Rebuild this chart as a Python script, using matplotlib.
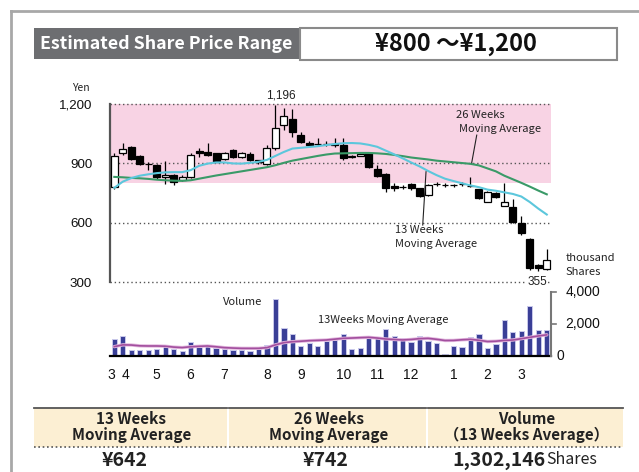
import matplotlib
matplotlib.use("Agg")
import matplotlib.pyplot as plt
from matplotlib.patches import Rectangle
from matplotlib.lines import Line2D
import numpy as np

# ---------------- data ----------------
opens  = [780, 951, 982, 938, 899, 893, 830, 840, 817, 830, 963, 956, 951, 921, 968, 931, 946, 915, 899, 976,
          1094, 1123, 1043, 1001, 996, 1000, 999, 993, 930, 940, 951, 870, 845, 786, 779, 795, 774, 740, 794, 789,
          790, 795, 787, 769, 707, 752, 687, 678, 601, 517, 387, 365]
closes = [935, 972, 923, 897, 896, 830, 840, 808, 830, 942, 952, 942, 909, 954, 934, 951, 917, 906, 976, 1080,
          1141, 1057, 1010, 994, 1000, 997, 995, 926, 938, 946, 880, 836, 778, 776, 781, 774, 736, 791, 797, 791,
          792, 797, 785, 724, 757, 732, 707, 606, 547, 372, 370, 412]
highs  = [952, 1004, 990, 942, 905, 898, 914, 845, 842, 955, 980, 1005, 955, 960, 972, 960, 960, 918, 993, 1196,
          1180, 1173, 1060, 1015, 1028, 1012, 1030, 1027, 945, 958, 960, 892, 850, 800, 790, 800, 778, 796, 805, 800,
          798, 805, 833, 772, 762, 755, 800, 719, 634, 525, 390, 466]
lows   = [772, 945, 915, 893, 868, 822, 795, 790, 810, 825, 930, 935, 905, 915, 925, 925, 912, 898, 892, 968,
          1070, 1035, 1005, 988, 990, 990, 985, 918, 925, 935, 876, 830, 754, 760, 770, 768, 730, 735, 785, 780,
          782, 788, 780, 720, 703, 728, 683, 600, 540, 360, 355, 360]
ma13   = [777, 808, 826, 838, 845, 851, 855, 856, 856, 866, 888, 899, 905, 905, 900, 899, 903, 908, 918, 938,
          958, 975, 979, 983, 987, 993, 998, 1002, 1003, 1001, 994, 984, 965, 946, 926, 905, 885, 862, 841, 823,
          811, 800, 789, 780, 768, 762, 754, 746, 733, 705, 672, 642]
ma26   = [832, 830, 827, 825, 822, 818, 815, 813, 812, 815, 823, 831, 839, 846, 853, 860, 867, 874, 881, 891,
          903, 914, 922, 930, 938, 945, 950, 951, 952, 953, 953, 951, 948, 943, 937, 930, 925, 920, 914, 910,
          906, 902, 898, 890, 875, 860, 838, 820, 802, 783, 763, 744]
volume = [1069, 1237, 357, 357, 357, 461, 671, 419, 314, 860, 545, 671, 524, 461, 357, 357, 314, 460, 680, 3565,
          1740, 1370, 629, 810, 629, 943, 980, 1363, 461, 524, 1258, 1216, 1677, 1258, 1132, 860, 1237, 943, 797, 147,
          629, 566, 1174, 1363, 524, 734, 2244, 1510, 1573, 3145, 1635, 1635]
vol_ma = [590, 700, 690, 640, 630, 630, 615, 560, 530, 580, 610, 630, 580, 525, 500, 482, 480, 482, 524, 700,
          840, 900, 930, 964, 985, 1006, 1060, 1111, 1130, 1153, 1174, 1130, 1070, 1040, 1010, 1040, 1090, 1111, 1050, 975,
          980, 1020, 1048, 990, 910, 930, 980, 1006, 1090, 1174, 1260, 1330]
month_labels = ["3", "4", "5", "6", "7", "8", "9", "10", "11", "12", "1", "2", "3"]
month_pos = [-0.4, 1.3, 5, 9, 13, 18, 22, 27, 31, 35, 40, 44, 48]
price_ticks = [300, 600, 900, 1200]
price_tick_labels = ["300", "600", "900", "1,200"]
vol_ticks = [0, 2000, 4000]
vol_tick_labels = ["0", "2,000", "4,000"]
range_low, range_high = 800, 1200
summary_heads = ["13 Weeks\nMoving Average", "26 Weeks\nMoving Average", "Volume\n（13 Weeks Average）"]
summary_vals = ["¥642", "¥742", "1,302,146"]

# ---------------- styling ----------------
W, H = 639, 472
FJ = ["Noto Sans CJK JP", "DejaVu Sans"]
FN = ["Liberation Sans", "DejaVu Sans"]
plt.rcParams['font.family'] = FJ

fig = plt.figure(figsize=(W / 100, H / 100), dpi=100)
fig.patch.set_facecolor("white")

def fx(x):
    return x / W

def fy(y):
    return 1 - y / H

def ax_rect(x0, y0, x1, y1):
    return [fx(x0), fy(y1), (x1 - x0) / W, (y1 - y0) / H]

# outer frame
fig.add_artist(Line2D([fx(11), fx(11)], [fy(11), 0], transform=fig.transFigure, color="#a8a8a8", lw=2))
fig.add_artist(Line2D([fx(11), 1], [fy(11), fy(11)], transform=fig.transFigure, color="#a8a8a8", lw=2))

# header
fig.add_artist(Rectangle((fx(34), fy(59)), (300 - 34) / W, 31 / H, transform=fig.transFigure,
                         facecolor="#6d6e71", edgecolor="none"))
fig.add_artist(Rectangle((fx(300), fy(59.5)), (617 - 300) / W, 31 / H, transform=fig.transFigure,
                         facecolor="white", edgecolor="#8a8a8a", lw=1.5))
fig.text(fx(166), fy(44), "Estimated Share Price Range", color="white", fontsize=12.8, fontweight="bold",
         ha="center", va="center", family=FJ)
fig.text(fx(456), fy(44), "¥800 ～¥1,200", color="#111111", fontsize=17, fontweight="bold",
         ha="center", va="center", family=FJ)

# ---------------- price axes ----------------
ppx = 178.3 / 900.0
ax = fig.add_axes(ax_rect(105, 85, 560, 290))
x0 = (105 - 114.3) / 8.48
x1 = (560 - 114.3) / 8.48
ax.set_xlim(x0, x1)
ax.set_ylim(300 - (290 - 282.3) / ppx, 1200 + (104 - 85) / ppx)
for s in ax.spines.values():
    s.set_visible(False)
ax.patch.set_alpha(0)
ax.set_xticks([])
ax.set_yticks(price_ticks)
ax.set_yticklabels(price_tick_labels, family=FN, fontsize=9.6, color="#111111")
ax.tick_params(axis="y", length=0, pad=9.2)

xs = np.arange(len(opens))
ax.add_patch(Rectangle((-0.5, range_low), 52, range_high - range_low, facecolor="#f8d3e4",
                       edgecolor="none", zorder=0))
for t in price_ticks:
    ax.plot([-0.5, 51.5], [t, t], color="#555555", lw=1, ls=(0, (1, 2)), zorder=1)
ax.plot([-0.5, -0.5], [300, 1200], color="#555555", lw=1.6, zorder=2)

o = np.array(opens); c = np.array(closes)
up = c >= o
bottoms = np.minimum(o, c)
heights = np.maximum(np.abs(c - o), 3)
ax.vlines(xs, lows, highs, color="black", lw=0.9, zorder=3)
ax.bar(xs, heights, bottom=bottoms, width=0.82, color=np.where(up, "white", "black"),
       edgecolor="black", linewidth=0.9, zorder=4)
ax.plot(xs, ma26, color="#3a9a68", lw=1.5, zorder=5)
ax.plot(xs, ma13, color="#5cc7dc", lw=1.5, zorder=6)

txt = dict(fontsize=8, color="#222222", family=FJ, clip_on=False)
ax.text(19.7, 1245, "1,196", ha="center", va="center", **{**txt, 'family': FN, 'fontsize': 8.5})
ax.text(40.3, 1144, "26 Weeks", ha="left", va="center", **txt)
ax.text(40.65, 1074, "Moving Average", ha="left", va="center", **txt)
ax.plot([42.74, 42.15], [1043, 904], color="#222222", lw=0.8, zorder=7)
ax.text(33.1, 564, "13 Weeks", ha="left", va="center", **txt)
ax.text(33.1, 493, "Moving Average", ha="left", va="center", **txt)
ax.plot([36.76, 36.37], [858, 589], color="#222222", lw=0.8, zorder=7)
ax.text(49.9, 300, "355", ha="center", va="center", zorder=8,
        bbox=dict(facecolor="white", edgecolor="none", pad=0.3), **{**txt, 'family': FN, 'fontsize': 8.5})
ax.text(-4.0, 1281, "Yen", ha="center", va="center", **{**txt, 'fontsize': 7.5})
ax.text(53.2, 422, "thousand", ha="left", va="center", **txt)
ax.text(53.2, 352, "Shares", ha="left", va="center", **txt)

# ---------------- volume axes ----------------
vpx = 2000 / 31.8
axv = fig.add_axes(ax_rect(105, 288, 560, 358))
axv.set_xlim(x0, x1)
axv.set_ylim(-(358 - 356) * vpx, (356 - 288) * vpx)
for s in axv.spines.values():
    s.set_visible(False)
axv.patch.set_alpha(0)
axv.set_yticks([])
axv.bar(xs, volume, width=0.62, color="#3a3f97", edgecolor="#c9c9ea", linewidth=0.7, zorder=3)
axv.plot(xs, vol_ma, color="#e3b8df", lw=2.4, zorder=4, solid_capstyle="round")
axv.plot(xs, vol_ma, color="#a24f9e", lw=1.2, zorder=5)
axv.plot([-0.5, 51.5], [0, 0], color="black", lw=1.6, zorder=6)
axv.plot([51.5, 51.5], [0, 4000], color="#777777", lw=1.5, zorder=6)
for t in vol_ticks[1:]:
    axv.plot([51.5, 52.1], [t, t], color="#777777", lw=1.2, zorder=6)
vt = dict(family=FN, fontsize=10, color="#111111", va="center", clip_on=False)
axv.text(53.2, 4000, vol_tick_labels[2], ha="left", **vt)
axv.text(53.2, 2000, vol_tick_labels[1], ha="left", **vt)
axv.text(52.2, 0, vol_tick_labels[0], ha="left", **vt)
axv.set_xticks(month_pos)
axv.set_xticklabels(month_labels, family=FN, fontsize=10, color="#111111")
axv.tick_params(axis="x", length=0, pad=7.3)
axv.text(15.1, 3396, "Volume", ha="center", va="center", **txt)
axv.text(24.0, 2264, "13Weeks Moving Average", ha="left", va="center", **txt)

# ---------------- summary table ----------------
cols = [(34, 227), (229, 426), (428, 623)]
for (a, b), head in zip(cols, summary_heads):
    fig.add_artist(Rectangle((fx(a), fy(447)), (b - a) / W, (447 - 408) / H, transform=fig.transFigure,
                             facecolor="#fcefd3", edgecolor="none"))
    fig.add_artist(Line2D([fx(a), fx(b)], [fy(408), fy(408)], transform=fig.transFigure,
                          color="#555555", lw=1.3))
    fig.add_artist(Line2D([fx(a), fx(b)], [fy(447), fy(447)], transform=fig.transFigure,
                          color="#555555", lw=1.2, ls=(0, (1, 1.6))))
    cx = (a + b) / 2 + 1
    l1, l2 = head.split("\n")
    fig.text(fx(cx), fy(419), l1, ha="center", va="center", fontsize=11, fontweight="bold",
             color="#222222", family=FJ)
    fig.text(fx(cx), fy(435), l2, ha="center", va="center", fontsize=11, fontweight="bold",
             color="#222222", family=FJ)
fig.text(fx(125), fy(460), summary_vals[0], ha="center", va="center", fontsize=14, fontweight="bold",
         color="#222222", family=FJ)
fig.text(fx(326), fy(460), summary_vals[1], ha="center", va="center", fontsize=14, fontweight="bold",
         color="#222222", family=FJ)
fig.text(fx(546), fy(460), summary_vals[2], ha="right", va="center", fontsize=14, fontweight="bold",
         color="#222222", family=FJ)
fig.text(fx(546), fy(460), "Shares", ha="left", va="center", fontsize=11.5, color="#222222", family=FJ)

fig.savefig("out.png", dpi=100)
